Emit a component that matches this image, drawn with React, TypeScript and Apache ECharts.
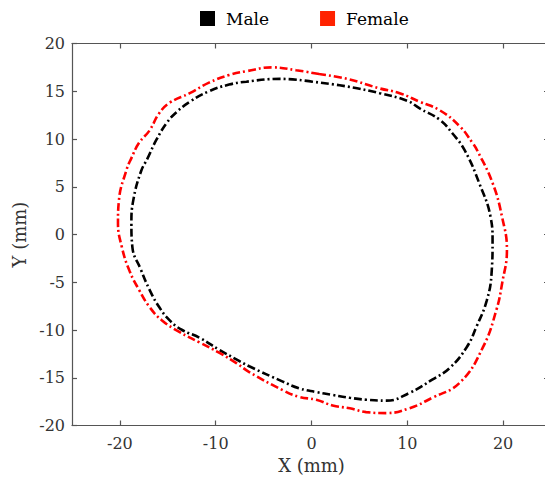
import React, { useEffect, useRef } from "react";
import * as echarts from "echarts";

const seriesNames = ["Male", "Female"];
const xTicks = [-20, -10, 0, 10, 20];

const maleX = [0.1, -3.3, -6.8, -8.6, -10.7, -12.7, -14.1, -15.1, -16.2, -17.1, -17.8, -18.6, -18.8, -18.7, -17.8, -16.9, -15.9, -14.8, -13.5, -11.7, -9.6, -7.8, -6.5, -3.0, -1.3, 0.5, 2.2, 4.0, 5.7, 7.8, 10.2, 12.6, 14.4, 16.2, 17.2, 18.3, 18.8, 18.9, 18.7, 17.5, 16.0, 14.7, 13.4, 11.3, 10.0, 7.1, 3.7, 0.1];
const maleY = [16.0, 16.3, 16.0, 15.7, 15.0, 13.9, 12.8, 11.7, 9.9, 8.0, 6.6, 3.6, 1.2, -1.3, -3.7, -5.8, -7.6, -9.0, -10.0, -10.8, -12.1, -13.1, -13.8, -15.4, -16.1, -16.5, -16.8, -17.1, -17.3, -17.4, -16.6, -15.2, -14.0, -11.8, -9.7, -6.9, -4.0, -0.6, 1.8, 5.4, 8.8, 10.6, 12.0, 13.2, 14.0, 14.8, 15.5, 16.0];

const femaleX = [0.8, -1.6, -4.1, -6.8, -8.6, -10.7, -12.7, -14.8, -15.9, -16.9, -18.0, -18.8, -19.3, -20.1, -20.2, -19.8, -19.0, -18.0, -16.9, -15.6, -13.8, -11.7, -9.6, -7.8, -6.5, -3.0, -1.3, 0.5, 2.2, 4.0, 5.7, 7.8, 10.2, 12.6, 15.5, 17.9, 19.3, 19.9, 20.4, 19.9, 18.9, 17.3, 16.8, 15.5, 13.4, 11.3, 9.2, 7.1, 3.7, 0.8];
const femaleY = [16.8, 17.2, 17.5, 17.1, 16.7, 15.9, 14.8, 13.8, 12.7, 10.9, 9.6, 8.0, 6.8, 3.6, 1.2, -1.3, -3.8, -5.8, -7.6, -9.0, -10.2, -11.3, -12.4, -13.5, -14.4, -16.3, -17.0, -17.3, -17.9, -18.2, -18.6, -18.7, -18.2, -17.1, -15.5, -11.8, -7.9, -5.1, -1.6, 1.8, 5.4, 8.8, 9.6, 11.3, 13.0, 13.9, 14.8, 15.3, 16.3, 16.8];

const FONT = "DejaVu Serif";

export default function App() {
  const ref = useRef<HTMLDivElement>(null);
  useEffect(() => {
    if (!ref.current) return;
    const chart = echarts.init(ref.current, null, { renderer: "svg" });
    const axisLineStyle = { color: "#555", width: 1.2 };
    const maleData = maleX.map((x, i) => [x, maleY[i]]);
    const femaleData = femaleX.map((x, i) => [x, femaleY[i]]);
    chart.setOption({
      animation: false,
      backgroundColor: "#fff",
      legend: {
        top: 10,
        left: 200,
        padding: 0,
        icon: "rect",
        itemWidth: 15,
        itemHeight: 15,
        itemGap: 51,
        textStyle: { fontFamily: FONT, fontSize: 17, color: "#000", padding: [0, 0, 0, 6] },
        data: [
          { name: seriesNames[0], itemStyle: { color: "#000" } },
          { name: seriesNames[1], itemStyle: { color: "#ff2200" } },
        ],
      },
      grid: { left: 72, right: 0, top: 43.5, bottom: 56.5 },
      xAxis: [
        {
          type: "value",
          min: -25,
          max: 25,
          name: "X (mm)",
          nameLocation: "middle",
          nameGap: 31,
          nameTextStyle: { fontFamily: FONT, fontSize: 18, color: "#333" },
          axisLine: { show: true, onZero: false, lineStyle: axisLineStyle },
          axisTick: { show: true, inside: true, length: 5, lineStyle: axisLineStyle, customValues: xTicks },
          axisLabel: { fontFamily: FONT, fontSize: 16, color: "#333", margin: 10, customValues: xTicks },
          splitLine: { show: false },
        },
        {
          type: "value",
          position: "top",
          min: -25,
          max: 25,
          axisLine: { show: true, onZero: false, lineStyle: axisLineStyle },
          axisTick: { show: true, inside: true, length: 5, lineStyle: axisLineStyle, customValues: xTicks },
          axisLabel: { show: false },
          splitLine: { show: false },
        },
      ],
      yAxis: [
        {
          type: "value",
          min: -20,
          max: 20,
          interval: 5,
          name: "Y (mm)",
          nameLocation: "middle",
          nameGap: 36,
          nameTextStyle: { fontFamily: FONT, fontSize: 18, color: "#333" },
          axisLine: { show: true, onZero: false, lineStyle: axisLineStyle },
          axisTick: { show: true, inside: true, length: 5, lineStyle: axisLineStyle },
          axisLabel: { fontFamily: FONT, fontSize: 16, color: "#333", margin: 7 },
          splitLine: { show: false },
        },
        {
          type: "value",
          position: "right",
          min: -20,
          max: 20,
          interval: 5,
          axisLine: { show: true, onZero: false, lineStyle: axisLineStyle },
          axisTick: { show: true, inside: true, length: 7, lineStyle: axisLineStyle },
          axisLabel: { show: false },
          splitLine: { show: false },
        },
      ],
      series: [
        {
          name: seriesNames[0],
          type: "line",
          data: maleData,
          showSymbol: false,
          smooth: 0.45,
          color: "#000",
          lineStyle: { color: "#000", width: 2.6, type: [8, 3, 2, 3] },
        },
        {
          name: seriesNames[1],
          type: "line",
          data: femaleData,
          showSymbol: false,
          smooth: 0.45,
          color: "#ff2200",
          lineStyle: { color: "#ff0000", width: 2.6, type: [8, 3, 2, 3] },
        },
      ],
    });
    return () => chart.dispose();
  }, []);
  return (
    <div
      style={{
        position: "fixed",
        left: 0,
        top: 0,
        width: 545,
        height: 482,
        overflow: "hidden",
        background: "#fff",
      }}
    >
      <div ref={ref} style={{ width: 551, height: 482 }} />
    </div>
  );
}
